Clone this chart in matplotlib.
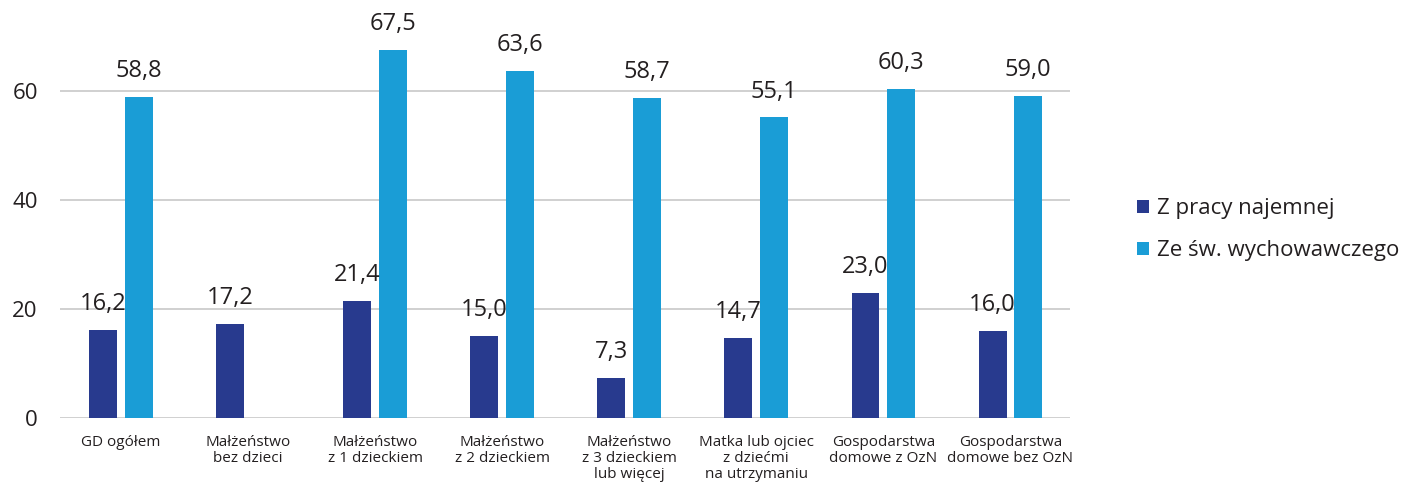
import matplotlib.pyplot as plt
import numpy as np

categories = ["GD ogółem", "Małżeństwo\nbez dzieci", "Małżeństwo\nz 1 dzieckiem",
              "Małżeństwo\nz 2 dzieckiem", "Małżeństwo\nz 3 dzieckiem\nlub więcej",
              "Matka lub ojciec\nz dziećmi\nna utrzymaniu",
              "Gospodarstwa\ndomowe z OzN", "Gospodarstwa\ndomowe bez OzN"]
praca = [16.2, 17.2, 21.4, 15.0, 7.3, 14.7, 23.0, 16.0]
swiadczenie = [58.8, np.nan, 67.5, 63.6, 58.7, 55.1, 60.3, 59.0]
labels = ["Z pracy najemnej", "Ze św. wychowawczego"]

dark = "#283a8e"
light = "#1a9dd6"
txt = "#231f20"

plt.rcParams['font.family'] = ['Open Sans', 'DejaVu Sans']

fig = plt.figure(figsize=(14.05, 4.88), dpi=100)
ax = fig.add_axes([0.0427, 0.1434, 0.7189, 0.805])

x = np.arange(len(categories))
w = 0.22
off = 0.14
b1 = ax.bar(x - off, praca, w, color=dark, label=labels[0], zorder=3)
b2 = ax.bar(x + off, swiadczenie, w, color=light, label=labels[1], zorder=3)

for xi, v in zip(x - off, praca):
    ax.annotate(f"{v:.1f}".replace(".", ","), (xi, v), xytext=(0, 10),
                textcoords="offset points", ha="center", va="bottom",
                fontsize=17, color=txt)
for xi, v in zip(x + off, swiadczenie):
    if np.isnan(v):
        continue
    ax.annotate(f"{v:.1f}".replace(".", ","), (xi, v), xytext=(0, 10),
                textcoords="offset points", ha="center", va="bottom",
                fontsize=17, color=txt)

ax.set_xlim(-0.48, 7.47)
ax.set_ylim(0, 72)
ax.set_yticks([0, 20, 40, 60])
ax.set_xticks(x)
ax.set_xticklabels(categories, fontsize=11, color=txt, linespacing=1.1)
ax.tick_params(axis="both", length=0)
ax.tick_params(axis="y", labelsize=16, labelcolor=txt, pad=16)
ax.tick_params(axis="x", pad=12)
ax.grid(axis="y", color="#c8c8c8", linewidth=1.2, zorder=0)
for s in ax.spines.values():
    s.set_visible(False)

fig.legend(handles=[b1, b2], loc="upper left", bbox_to_anchor=(0.795, 0.635),
           frameon=False, fontsize=16, handlelength=0.55, handleheight=0.55,
           handletextpad=0.35, labelspacing=0.95, labelcolor=txt)

fig.savefig("out.png", dpi=100)
